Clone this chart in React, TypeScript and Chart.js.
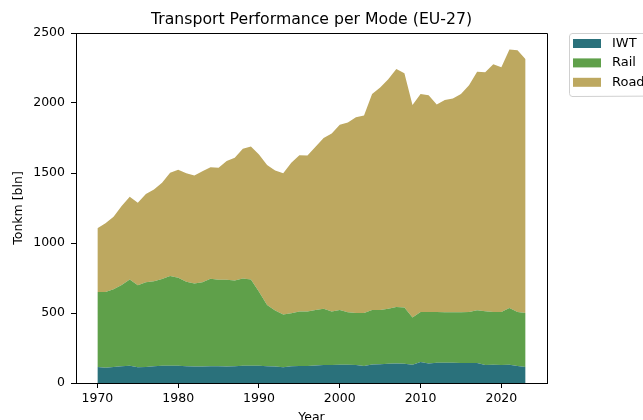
import React, { useEffect, useRef } from "react";
import { Chart, registerables } from "chart.js";

Chart.register(...registerables);

const years: number[] = [];
for (let y = 1970; y <= 2023; y++) years.push(y);

const iwt = [
  114, 109, 114, 119, 123, 112, 114, 119, 123, 123,
  123, 119, 117, 117, 119, 119, 117, 119, 123, 123,
  123, 119, 117, 112, 119, 121, 121, 125, 128, 128,
  131, 130, 128, 121, 133, 134, 137, 140, 138, 131,
  150, 140, 145, 145, 145, 143, 142, 142, 128, 131,
  128, 131, 121, 114,
];

const rail = [
  536, 541, 555, 581, 617, 586, 605, 607, 620, 641,
  629, 605, 593, 602, 626, 619, 621, 614, 623, 617,
  529, 438, 400, 378, 379, 389, 389, 396, 403, 382,
  390, 375, 372, 379, 388, 387, 394, 403, 402, 336,
  357, 367, 362, 360, 360, 362, 365, 377, 384, 376,
  379, 405, 386, 386,
];

const road = [
  455, 491, 519, 564, 591, 590, 631, 657, 688, 738,
  772, 774, 773, 793, 796, 800, 848, 876, 928, 950,
  981, 1000, 1000, 1008, 1076, 1116, 1115, 1167, 1219, 1273,
  1324, 1355, 1398, 1410, 1543, 1589, 1638, 1700, 1672, 1519,
  1557, 1548, 1483, 1516, 1528, 1559, 1619, 1705, 1707, 1769,
  1748, 1847, 1869, 1812,
];

const seriesNames = ["IWT", "Rail", "Road"];
const seriesColors = ["#2a717b", "#5fa04a", "#bda860"];
const xTicks = [1970, 1980, 1990, 2000, 2010, 2020];
const chartTitle = "Transport Performance per Mode (EU-27)";
const xTitle = "Year";
const yTitle = "Tonkm [bln]";

const FONT = "'DejaVu Sans', sans-serif";

const framePlugin = {
  id: "frameAndLegend",
  afterDraw(chart: any) {
    const ctx = chart.ctx;
    const a = chart.chartArea;
    ctx.save();
    // top & right spines
    ctx.strokeStyle = "#000";
    ctx.lineWidth = 1;
    ctx.beginPath();
    ctx.moveTo(a.left, a.top + 0.5);
    ctx.lineTo(a.right + 0.5, a.top + 0.5);
    ctx.lineTo(a.right + 0.5, a.bottom);
    ctx.stroke();
    // title
    ctx.fillStyle = "#000";
    ctx.font = `15.7px ${FONT}`;
    ctx.textAlign = "center";
    ctx.textBaseline = "middle";
    ctx.fillText(chartTitle, (a.left + a.right) / 2, 19.5);
    // legend
    const lx = a.right + 22;
    const ly = a.top;
    const lw = 100;
    const lh = 63;
    ctx.strokeStyle = "#d0d0d0";
    ctx.fillStyle = "rgba(255,255,255,0.8)";
    ctx.beginPath();
    const r = 3;
    ctx.moveTo(lx + r, ly + 0.5);
    ctx.lineTo(lx + lw, ly + 0.5);
    ctx.lineTo(lx + lw, ly + lh);
    ctx.lineTo(lx + r, ly + lh + 0.5);
    ctx.arcTo(lx + 0.5, ly + lh + 0.5, lx + 0.5, ly + lh - r, r);
    ctx.lineTo(lx + 0.5, ly + r);
    ctx.arcTo(lx + 0.5, ly + 0.5, lx + r, ly + 0.5, r);
    ctx.closePath();
    ctx.fill();
    ctx.stroke();
    ctx.font = `13px ${FONT}`;
    ctx.textAlign = "left";
    seriesNames.forEach((name, i) => {
      const cy = ly + 10.5 + i * 19.4;
      ctx.fillStyle = seriesColors[i];
      ctx.fillRect(lx + 4, cy - 4.5, 28, 9);
      ctx.fillStyle = "#000";
      ctx.fillText(name, lx + 43, cy);
    });
    ctx.restore();
  },
};

export default function App() {
  const ref = useRef<HTMLCanvasElement | null>(null);

  useEffect(() => {
    document.body.style.margin = "0";
    if (!ref.current) return;
    const datasets = [iwt, rail, road].map((vals, i) => ({
      label: seriesNames[i],
      data: years.map((yr, j) => ({ x: yr, y: vals[j] })),
      backgroundColor: seriesColors[i],
      borderColor: seriesColors[i],
      borderWidth: 0,
      pointRadius: 0,
      fill: i === 0 ? "origin" : "-1",
      tension: 0,
    }));
    const chart = new Chart(ref.current, {
      type: "line",
      data: { datasets },
      plugins: [framePlugin],
      options: {
        animation: false,
        responsive: false,
        devicePixelRatio: 1,
        layout: { padding: { top: 33, right: 96, left: 0, bottom: 0 } },
        plugins: {
          legend: { display: false },
          title: { display: false },
          tooltip: { enabled: false },
        },
        scales: {
          x: {
            type: "linear",
            min: 1967.35,
            max: 2025.65,
            afterBuildTicks: (scale: any) => {
              scale.ticks = xTicks.map((v) => ({ value: v }));
            },
            afterFit: (scale: any) => {
              scale.height = 37;
            },
            grid: {
              drawOnChartArea: false,
              drawTicks: true,
              tickLength: 5,
              tickColor: "#000",
            },
            border: { display: true, color: "#000" },
            ticks: {
              color: "#000",
              font: { family: FONT, size: 12.5 },
              padding: 3,
              maxRotation: 0,
              callback: (v: any) => String(v),
            },
            title: {
              display: true,
              text: xTitle,
              color: "#000",
              font: { family: FONT, size: 12.5 },
              padding: { top: 0, bottom: -5 },
            },
          },
          y: {
            stacked: true,
            min: 0,
            max: 2500,
            afterFit: (scale: any) => {
              scale.width = 76;
            },
            grid: {
              drawOnChartArea: false,
              drawTicks: true,
              tickLength: 5,
              tickColor: "#000",
            },
            border: { display: true, color: "#000" },
            ticks: {
              stepSize: 500,
              color: "#000",
              font: { family: FONT, size: 12.5 },
              padding: 6,
              callback: (v: any) => String(v),
            },
            title: {
              display: true,
              text: yTitle,
              color: "#000",
              font: { family: FONT, size: 12.5 },
              padding: { top: 11, bottom: 0 },
            },
          },
        },
      },
    });
    return () => chart.destroy();
  }, []);

  return (
    <div style={{ position: "absolute", left: 0, top: 0, width: 643, height: 420, background: "#fff" }}>
      <canvas ref={ref} width={643} height={420} />
    </div>
  );
}
